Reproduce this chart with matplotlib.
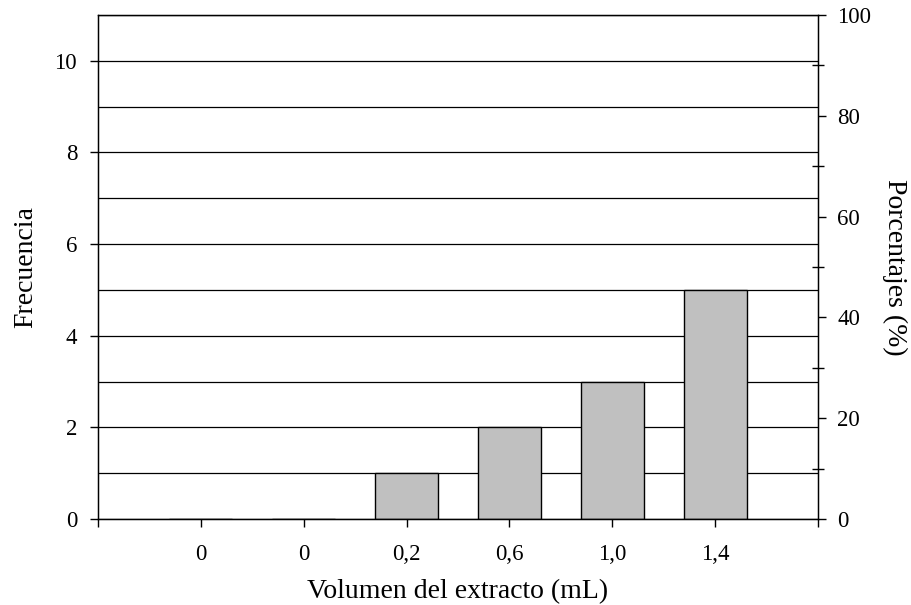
import matplotlib.pyplot as plt
from matplotlib.ticker import MultipleLocator

plt.rcParams['font.family'] = ['Liberation Serif', 'DejaVu Serif']

# datos del histograma
etiquetas = ['0', '0', '0,2', '0,6', '1,0', '1,4']
frecuencia = [0, 0, 1, 2, 3, 5]

fig = plt.figure(figsize=(9.12, 6.05), dpi=100)
ax = fig.add_axes([98 / 912, 1 - 519 / 605, 720 / 912, 504 / 605])

pos = list(range(1, len(etiquetas) + 1))
ax.set_axisbelow(True)
ax.bar(pos, frecuencia, width=0.61, color='#c0c0c0', edgecolor='black', linewidth=1)

ax.set_xlim(0, 7)
ax.set_ylim(0, 11)
ax.set_xticks(range(0, 8))
ax.set_xticklabels([''] + etiquetas + [''])
ax.set_yticks(range(0, 11, 2))
ax.yaxis.set_minor_locator(MultipleLocator(1))
ax.grid(True, which='both', axis='y', color='black', linewidth=0.9)
ax.tick_params(axis='y', which='minor', length=0)
ax.tick_params(axis='both', which='major', labelsize=16.5, length=6, width=1, direction='out')
ax.tick_params(axis='y', pad=9)
ax.tick_params(axis='x', pad=12)
for s in ax.spines.values():
    s.set_linewidth(1)

ax.set_xlabel('Volumen del extracto (mL)', fontsize=20, labelpad=10)
ax.set_ylabel('Frecuencia', fontsize=20, labelpad=12)

# eje de porcentajes
ax2 = ax.twinx()
ax2.set_ylim(0, 100)
ax2.set_yticks(range(0, 101, 20))
ax2.yaxis.set_minor_locator(MultipleLocator(10))
ax2.tick_params(axis='y', which='major', labelsize=16.5, length=6, width=1, direction='out', pad=8)
ax2.tick_params(axis='y', which='minor', length=8, width=1, direction='inout')
ax2.set_ylabel('Porcentajes (%)', fontsize=20, rotation=270, labelpad=26)

plt.savefig('out.png', dpi=100)
